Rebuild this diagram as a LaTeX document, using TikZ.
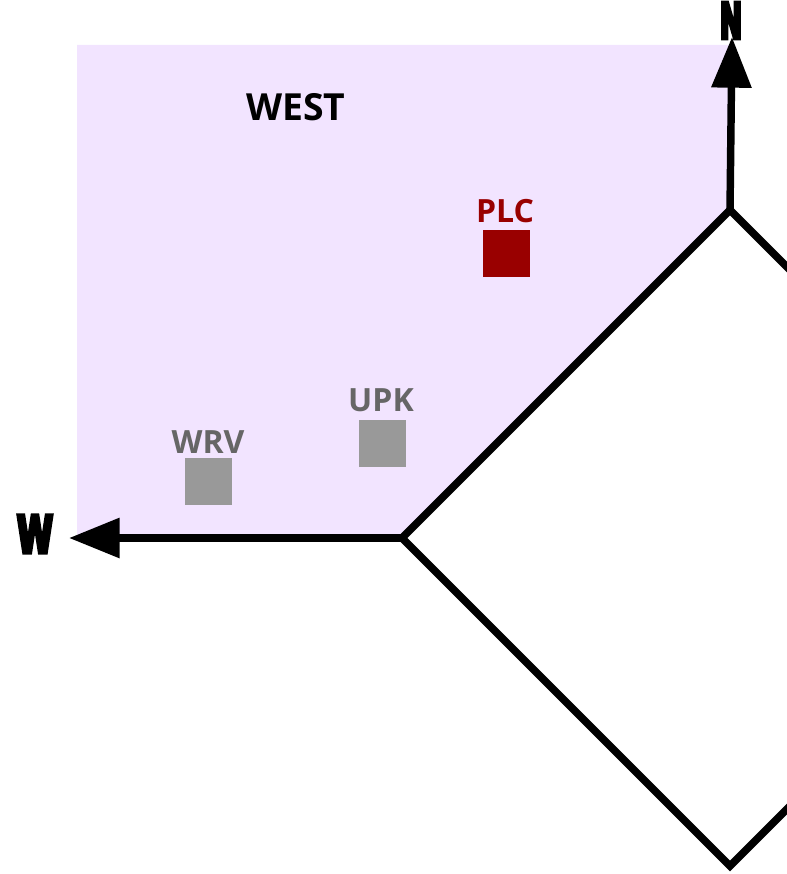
\documentclass[tikz,border=0pt]{standalone}
\usepackage{fontspec}
\setmainfont{Open Sans}
\newfontfamily\heavyfont[FakeBold=9]{DejaVu Sans}
\usetikzlibrary{arrows.meta}
\definecolor{regionfill}{HTML}{F2E4FF}
\definecolor{plcred}{HTML}{990000}
\definecolor{graytext}{HTML}{666666}
\definecolor{graysq}{HTML}{999999}
\tikzset{
  axis/.style={line width=5.6pt, -{Triangle[length=38pt,width=29pt]}},
  border/.style={line width=5.6pt, line join=miter},
  sq/.style={minimum size=35.25pt, inner sep=0pt, outer sep=0pt},
  lbl/.style={font=\bfseries\fontsize{24}{24}\selectfont, anchor=base, inner sep=0pt},
  compass/.style={inner sep=0pt, anchor=center}
}
\begin{document}
\begin{tikzpicture}[x=0.75pt,y=-0.75pt]
\useasboundingbox (0,0) rectangle (787,874);
% coordinates
\coordinate (top) at (730,210);
\coordinate (left) at (402,538);
\coordinate (bottom) at (730,866);
\coordinate (right) at (1058,538);
\coordinate (ntip) at (732,37);
\coordinate (wtip) at (69,538);
% region
\fill[regionfill] (77,45) -- (730,45) -- (top) -- (left) -- (77,538) -- cycle;
% diamond
\begin{scope}
\clip (0,0) rectangle (787,874);
\draw[border] (top) -- (left) -- (bottom) -- (right) -- cycle;
\end{scope}
% axes
\draw[axis] (top) -- (ntip);
\draw[axis] (left) -- (wtip);
% compass labels
\node[compass] (nlabel) at (731,20.5) {\resizebox{16.5pt}{26.5pt}{\heavyfont\bfseries N}};
\node[compass] (wlabel) at (35,534) {\resizebox{27pt}{27.5pt}{\heavyfont\bfseries W}};
% title
\node[lbl, font=\bfseries\fontsize{28}{28}\selectfont] (west) at (296,120) {WEST};
% stations
\node[sq, fill=plcred] (plcsq) at (506.5,253.5) {};
\node[lbl, text=plcred] (plc) at (505,222) {PLC};
\node[sq, fill=graysq] (upksq) at (382.5,443.5) {};
\node[lbl, text=graytext] (upk) at (381,411) {UPK};
\node[sq, fill=graysq] (wrvsq) at (208.5,481.5) {};
\node[lbl, text=graytext] (wrv) at (208,453) {WRV};
\end{tikzpicture}
\end{document}
